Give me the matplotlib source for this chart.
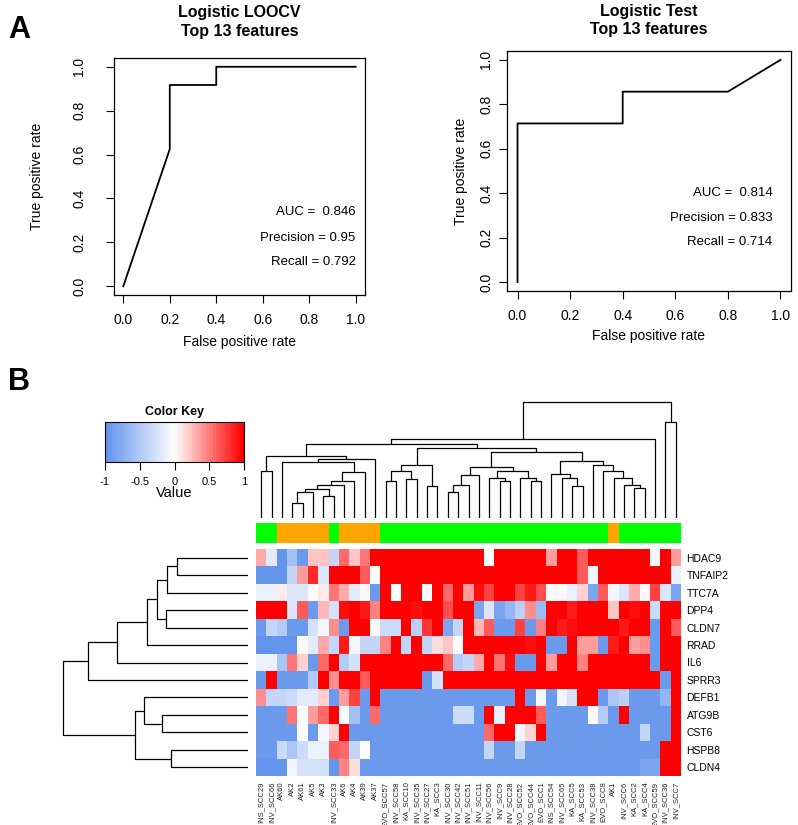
import numpy as np
import matplotlib
matplotlib.use("Agg")
import matplotlib.pyplot as plt
from matplotlib.colors import LinearSegmentedColormap

plt.rcParams["font.family"] = ["Liberation Sans", "DejaVu Sans"]
plt.rcParams["axes.unicode_minus"] = False

# --- ROC data ---
loocv_fpr = [0.0, 0.2, 0.2, 0.4, 0.4, 1.0]
loocv_tpr = [0.0, 0.625, 0.917, 0.917, 1.0, 1.0]
test_fpr = [0.0, 0.0, 0.4, 0.4, 0.8, 1.0]
test_tpr = [0.0, 0.714, 0.714, 0.857, 0.857, 1.0]
loocv_stats = ["AUC =  0.846", "Precision = 0.95", "Recall = 0.792"]
test_stats = ["AUC =  0.814", "Precision = 0.833", "Recall = 0.714"]

# --- heatmap data ---
genes = ["HDAC9", "TNFAIP2", "TTC7A", "DPP4", "CLDN7", "RRAD", "IL6",
         "SPRR3", "DEFB1", "ATG9B", "CST6", "HSPB8", "CLDN4"]
samples = ["INS_SCC29", "INV_SCC66", "AK60", "AK2", "AK61", "AK5", "AK3",
           "INV_SCC33", "AK6", "AK4", "AK39", "AK37", "EVO_SCC57", "INV_SCC58",
           "KA_SCC10", "INV_SCC35", "INV_SCC27", "KA_SCC3", "INV_SCC30",
           "INV_SCC42", "INV_SCC51", "INV_SCC11", "INV_SCC56", "INV_SCC9",
           "INV_SCC28", "EVO_SCC52", "EVO_SCC44", "EVO_SCC1", "INS_SCC54",
           "INV_SCC65", "KA_SCC5", "KA_SCC53", "INV_SCC38", "EVO_SCC8", "AK1",
           "INV_SCC6", "KA_SCC2", "KA_SCC4", "EVO_SCC59", "INV_SCC36", "INV_SCC7"]

HDAC9 = [0.3, -0.2, -1, -0.6, -0.9, 0.2, 0.2, -0.4, 0.55, 0.2,
         0.5, 1, 1, 1, 1, 1, 1, 1, 1, 1,
         1, 1, -0.05, 1, 1, 1, 1, 1, 0.35, 1,
         1, 0.6, 1, 1, 1, 1, 1, 1, -0.1, 1, 0.35]
TNFAIP2 = [-1, -1, -1, -0.4, 0.35, 0.8, -0.25, 1, 0.95, 1,
           0.6, -0.05, 1, 1, 1, 1, 1, 1, 1, 1,
           1, 1, 1, 1, 1, 1, 1, 1, 1, 1,
           1, 0.6, -0.1, 1, 1, 1, 1, 1, 1, 1, -0.15]
TTC7A = [-0.15, -0.15, 0.07, -0.25, -0.25, 0.03, 0.07, 0.5, 0.3, -0.2,
         0.0, -0.9, 1, -0.05, 1, 1, -0.05, 1, 0.55, 1,
         0.35, 0.9, 0.7, 1, 1, 0.7, 0.85, 0.65, 0.0, 0.0,
         -0.15, 0.15, -0.85, 0.6, -0.1, -0.25, 0.3, 0.0, 0.7, -0.25, -0.85]
DPP4 = [1, 1, 1, -0.25, 0.6, -0.9, 0.25, -0.3, 0.9, 1,
        0.85, 0.45, 1, 1, 1, 0.9, 1, 1, 0.65, 1,
        1, -0.85, -0.25, -0.85, -0.7, -0.45, 0.4, -0.65, 1, 1,
        0.85, 1, 1, 1, 0.2, 1, 0.9, 1, -0.35, 1, 1]
CLDN7 = [-0.9, -0.4, -0.5, -0.9, -0.9, -0.3, -0.1, 0.4, -0.9, 1,
         1, 0.0, -0.35, -0.35, 1, -0.45, 0.75, 1, -0.85, -0.4,
         1, 0.25, 0.6, -0.9, -0.9, 0.7, -0.9, 0.45, 1, 0.85,
         0.9, 1, 1, 1, 1, 0.85, 1, 1, -0.9, 1, 0.6]
RRAD = [-1, -1, -1, -1, 0.0, -0.2, 0.3, -0.4, 0.85, -0.1,
        -0.4, -0.4, 0.45, 1, -0.4, 1, -0.4, 0.1, 0.2, -0.05,
        1, 1, 1, 1, 1, 1, 0.9, 1, -0.9, -0.9,
        1, 0.35, 0.35, -0.9, 0.85, 1, 0.35, 0.4, -0.9, 1, 1]
IL6 = [-0.15, -0.15, -0.55, 0.5, 0.15, -0.9, 0.55, 1, -0.5, -0.3,
       1, 1, 1, 1, 1, 1, 1, 1, 0.55, -0.5,
       -0.4, 0.3, 1, 0.5, 0.9, -0.9, -0.9, 1, 0.35, 1,
       1, 0.45, 1, 1, 1, 1, 1, 1, -0.9, 1, 1]
SPRR3 = [-0.9, 1, -0.95, -0.95, -0.95, -0.5, 1, 0.4, 1, 1,
         0.6, 1, 1, 1, 1, 1, -0.9, -0.3, 1, 1,
         1, 1, 1, 1, 1, 1, 1, 1, 1, 1,
         1, 1, 1, 1, 1, 1, 1, 1, 1, -0.9, 1]
DEFB1 = [0.4, -0.4, -0.4, -0.35, -0.2, -0.2, 0.15, -0.9, 0.35, 0.7,
         -0.9, 1, -0.95, -0.95, -0.95, -0.95, -0.95, -0.95, -0.95, -0.95,
         -0.95, -0.95, -0.95, -0.95, -0.95, 1, -0.95, -0.1, -0.95, -0.1,
         -0.3, 1, 1, -0.9, -0.55, -0.45, -0.9, -0.9, -0.9, -0.7, 1]
ATG9B = [-0.95, -0.95, -0.95, 0.5, -0.03, 0.35, 0.55, 1, -0.02, -0.6,
         -0.95, 0.55, -0.95, -0.95, -0.95, -0.95, -0.95, -0.95, -0.95, -0.35,
         -0.35, -0.95, 1, -0.15, 1, 1, 1, 0.6, -0.95, -0.95,
         -0.95, -0.95, 0.0, -0.5, -0.95, 1, -0.95, -0.95, -0.95, -0.95, 1]
CST6 = [-0.95, -0.95, -0.95, -0.95, -0.03, -0.9, -0.1, 0.15, 1, -0.9,
        -0.95, -0.95, -0.95, -0.95, -0.95, -0.95, -0.95, -0.95, -0.95, -0.95,
        -0.95, -0.95, 0.55, 1, 1, -0.1, 0.15, 1, -0.95, -0.95,
        -0.95, -0.95, -0.95, -0.95, -0.95, -0.95, -0.95, -0.4, -0.95, -0.95, 1]
HSPB8 = [-0.95, -0.95, -0.35, -0.55, -0.35, -0.15, -0.15, 0.6, 0.55, -0.4,
         -0.05, -0.95, -0.95, -0.95, -0.95, -0.95, -0.95, -0.95, -0.95, -0.95,
         -0.95, -0.95, -0.4, -0.95, -0.95, -0.4, -0.95, -0.95, -0.95, -0.95,
         -0.95, -0.95, -0.95, -0.95, -0.95, -0.95, -0.95, -0.95, -0.95, 1, 1]
CLDN4 = [-1, -1, -1, -0.1, -0.3, -0.3, -0.3, -1, 0.45, 0.1,
         -0.95, -0.95, -0.95, -0.95, -0.95, -0.95, -0.95, -0.95, -0.95, -0.95,
         -0.95, -0.95, -0.95, -0.95, -0.95, -0.95, -0.95, -0.95, -0.95, -0.95,
         -0.95, -0.95, -0.95, -0.95, -0.95, -0.95, -0.95, -0.8, -0.8, 1, 1]

values = np.array([HDAC9, TNFAIP2, TTC7A, DPP4, CLDN7, RRAD, IL6,
                   SPRR3, DEFB1, ATG9B, CST6, HSPB8, CLDN4])

# --- column dendrogram: (left, right, height), leaves = column positions ---
c_ak = (((((((3, 4, 45), 5, 77), (6, 7, 65), 87), 8, 100), 9, 110), 10, 137))
c_left = ((0, 1, 140), (((2, c_ak, 167)), 11, 177), 187)
c_l = (((12, 13, 110), (14, 15, 117), 140), (16, 17, 95), 160)
c_p = (((18, 19, 79), 20, 100), 21, 130)
c_q = ((22, (23, 24, 110), 120), (25, (26, 27, 110), 120), 142)
c_o = ((28, (29, (30, 31, 95), 120), 133),
       (32, (33, (34, (35, (36, 37, 90), 100), 120), 142), 160), 170)
c_main = (c_l, ((c_p, c_q, 152), c_o, 198), 210)
col_tree = ((((c_left, c_main, 223), 38, 237)), (39, 40, 290), 350)

# --- row dendrogram ---
r_top = ((((((0, 1, 70.7), 2, 80.7), (3, 4, 81.7), 90.7), 5, 101), 6, 131), 7, 160)
r_bot = ((8, (9, 10, 86), 103.7), (11, 12, 77), 113)
row_tree = (r_top, r_bot, 185)

W, H = 798, 825
fig = plt.figure(figsize=(W / 100, H / 100), dpi=100)


def add_ax(x0, y0, x1, y1):
    return fig.add_axes([x0 / W, 1 - y1 / H, (x1 - x0) / W, (y1 - y0) / H])


def roc_panel(box, fpr, tpr, title, stats, stat_x, stat_y, ypad, ylabpad, xlabpad, tpad):
    ax = add_ax(*box)
    ax.plot(fpr, tpr, color="black", lw=1.3)
    ax.set_xlim(-0.04, 1.04)
    ax.set_ylim(-0.04, 1.04)
    ticks = [0.0, 0.2, 0.4, 0.6, 0.8, 1.0]
    ax.set_xticks(ticks)
    ax.set_yticks(ticks)
    ax.set_xticklabels([f"{t:.1f}" for t in ticks], fontsize=10)
    ax.set_yticklabels([f"{t:.1f}" for t in ticks], fontsize=10, rotation=90, va="center")
    ax.tick_params(axis="x", length=6, width=0.8, pad=7)
    ax.tick_params(axis="y", length=6, width=0.8, pad=ypad)
    for s in ax.spines.values():
        s.set_linewidth(0.9)
    ax.set_xlabel("False positive rate", fontsize=10, labelpad=xlabpad)
    ax.set_ylabel("True positive rate", fontsize=10, labelpad=ylabpad)
    ax.set_title(title, fontsize=11.5, fontweight="bold", pad=tpad, linespacing=1.3)
    for s, yy in zip(stats, stat_y):
        ax.text(stat_x, yy, s, fontsize=9.5, ha="right", va="center")
    return ax


roc_panel((114, 58, 365, 295), loocv_fpr, loocv_tpr, "Logistic LOOCV\nTop 13 features",
          loocv_stats, 1.0, [0.34, 0.22, 0.11], 14, 20, 6, 16)
roc_panel((507, 51, 791, 291), test_fpr, test_tpr, "Logistic Test\nTop 13 features",
          test_stats, 0.97, [0.40, 0.29, 0.18], 4, 8, 4, 12)

fig.text(8 / W, 1 - 30 / H, "A", fontsize=22, fontweight="bold", va="center")
fig.text(8 / W, 1 - 382 / H, "B", fontsize=22, fontweight="bold", va="center")

# --- heatmap ---
cmap = LinearSegmentedColormap.from_list("bwr_r", ["#6495ED", "#FFFFFF", "#FF0000"], N=40)
hx0, hx1, hy0, hy1 = 256, 681, 549, 776
n_rows, n_cols = values.shape
axh = add_ax(hx0, hy0, hx1, hy1)
axh.imshow(values, cmap=cmap, vmin=-1, vmax=1, aspect="auto", interpolation="nearest")
axh.set_xticks(range(n_cols))
axh.set_xticklabels(samples, rotation=90, fontsize=5.5, color="#222222")
axh.set_yticks(range(n_rows))
axh.set_yticklabels(genes, fontsize=7.5)
axh.yaxis.tick_right()
axh.tick_params(length=0, pad=4)
for s in axh.spines.values():
    s.set_visible(False)

# side colour bar
axc = add_ax(hx0, 523, hx1, 543)
side = ["#FFA500" if s.startswith("AK") else "#00FF00" for s in samples]
axc.bar(range(n_cols), [1] * n_cols, width=1.0, color=side)
axc.set_xlim(-0.5, n_cols - 0.5)
axc.set_ylim(0, 1)
axc.axis("off")


def draw_tree(ax, node, vertical=True):
    # returns (center, height)
    if isinstance(node, int):
        return node, 0.0
    left, right, h = node
    xl, hl = draw_tree(ax, left, vertical)
    xr, hr = draw_tree(ax, right, vertical)
    xs = [xl, xl, xr, xr]
    hs = [hl, h, h, hr]
    if vertical:
        ax.plot(xs, hs, color="black", lw=0.9, solid_capstyle="butt")
    else:
        ax.plot(hs, xs, color="black", lw=0.9, solid_capstyle="butt")
    return (xl + xr) / 2, h


axd = add_ax(hx0, 401, hx1, 518)
draw_tree(axd, col_tree, vertical=True)
axd.set_xlim(-0.5, n_cols - 0.5)
axd.set_ylim(0, 352)
axd.axis("off")

axr = add_ax(28, hy0, 248, hy1)
draw_tree(axr, row_tree, vertical=False)
axr.set_ylim(n_rows - 0.5, -0.5)
axr.set_xlim(220, 0)
axr.axis("off")

# colour key
axk = add_ax(105, 422, 244, 462)
grad = np.linspace(-1, 1, 200).reshape(1, -1)
axk.imshow(grad, cmap=cmap, vmin=-1, vmax=1, aspect="auto", extent=[-1, 1, 0, 1])
axk.set_yticks([])
axk.set_xticks([-1, -0.5, 0, 0.5, 1])
axk.set_xticklabels(["-1", "-0.5", "0", "0.5", "1"], fontsize=8)
axk.tick_params(length=6, pad=5)
axk.set_xlabel("Value", fontsize=10.5, labelpad=-1)
axk.set_title("Color Key", fontsize=9, fontweight="bold", pad=5)

fig.savefig("out.png", dpi=100)
